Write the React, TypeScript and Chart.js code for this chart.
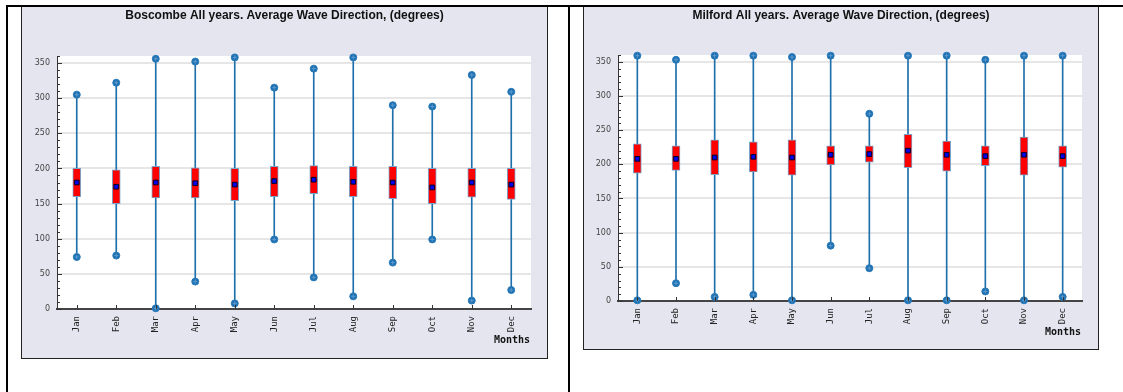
import React, { useEffect, useRef } from 'react';
import { Chart, registerables } from 'chart.js';

Chart.register(...registerables);

const months = ['Jan', 'Feb', 'Mar', 'Apr', 'May', 'Jun', 'Jul', 'Aug', 'Sep', 'Oct', 'Nov', 'Dec'];
const yTickValues = [0, 50, 100, 150, 200, 250, 300, 350];

const boscombeMin = [74, 76, 1, 39, 8, 99, 45, 18, 66, 99, 12, 27];
const boscombeMax = [305, 322, 356, 352, 358, 315, 342, 358, 290, 288, 333, 309];
const boscombeQ1 = [160, 150, 158, 158, 154, 160, 164, 160, 157, 150, 159, 156];
const boscombeQ3 = [200, 198, 203, 201, 200, 203, 204, 203, 203, 200, 200, 200];
const boscombeMean = [180, 174, 180, 179, 177, 182, 184, 181, 180, 173, 180, 177];

const milfordMin = [1, 26, 6, 9, 1, 81, 48, 1, 1, 14, 1, 6];
const milfordMax = [359, 353, 359, 359, 357, 359, 274, 359, 359, 353, 359, 359];
const milfordQ1 = [187, 191, 185, 189, 184, 199, 203, 195, 190, 198, 184, 196];
const milfordQ3 = [230, 227, 236, 233, 236, 227, 227, 244, 234, 227, 240, 227];
const milfordMean = [208, 208, 210, 211, 210, 214, 215, 220, 214, 212, 214, 212];

const decoPlugin = {
  id: 'deco',
  beforeDraw(chart: any) {
    const { ctx, chartArea: a } = chart;
    ctx.save();
    ctx.fillStyle = '#ffffff';
    ctx.fillRect(a.left, a.top, a.right - a.left, a.bottom - a.top);
    ctx.restore();
  },
  afterDraw(chart: any, _args: any, opts: any) {
    const { ctx, chartArea: a } = chart;
    const y = chart.scales.y;
    const x = chart.scales.x;
    ctx.save();
    ctx.strokeStyle = '#333';
    ctx.lineWidth = 1;
    ctx.beginPath();
    for (let v = 0; v <= 360; v += 10) {
      const py = Math.round(y.getPixelForValue(v)) + 0.5;
      ctx.moveTo(a.left, py);
      ctx.lineTo(a.left + (v % 50 === 0 ? 5 : 3), py);
    }
    for (let i = 0; i < months.length; i++) {
      const px = Math.round(x.getPixelForValue(i)) + 0.5;
      ctx.moveTo(px, a.bottom);
      ctx.lineTo(px, a.bottom - 4);
    }
    ctx.stroke();
    ctx.fillStyle = '#111';
    ctx.font = 'bold 12px "Liberation Sans", Arial, sans-serif';
    ctx.textAlign = 'center';
    ctx.textBaseline = 'middle';
    ctx.fillText(opts.title, chart.width / 2, opts.titleY);
    ctx.font = 'bold 10px "DejaVu Sans Mono", monospace';
    ctx.textAlign = 'right';
    ctx.fillText(opts.axisTitle, a.right - 1, opts.axisTitleY);
    ctx.restore();
  },
};

type PanelProps = {
  left: number;
  top: number;
  width: number;
  height: number;
  title: string;
  mins: number[];
  maxs: number[];
  q1: number[];
  q3: number[];
  means: number[];
  padTop: number;
  padRight: number;
  yWidth: number;
  xHeight: number;
  axisTitleY: number;
};

function endpointSet(data: number[]) {
  return {
    type: 'line',
    data,
    showLine: false,
    pointStyle: 'circle',
    pointRadius: 3.5,
    pointBackgroundColor: '#1f70b0',
    pointBorderColor: '#2a7cbb',
    pointBorderWidth: 1,
    clip: false,
    order: 3,
  } as any;
}

function crossSet(data: number[]) {
  return {
    type: 'line',
    data,
    showLine: false,
    pointStyle: 'cross',
    pointRadius: 2,
    pointBorderColor: '#5c9bd0',
    pointBorderWidth: 1,
    clip: false,
    order: 2,
  } as any;
}

function Panel(p: PanelProps) {
  const ref = useRef<HTMLCanvasElement>(null);
  const cw = p.width - 2;
  const ch = p.height - 2;
  useEffect(() => {
    if (!ref.current) return;
    const whisker = months.map((_, i) => [p.mins[i], p.maxs[i]]);
    const box = months.map((_, i) => [p.q1[i], p.q3[i]]);
    const chart = new Chart(ref.current, {
      type: 'bar',
      data: {
        labels: months,
        datasets: [
          {
            type: 'bar',
            data: whisker as any,
            backgroundColor: '#1f6fab',
            borderWidth: 0,
            barThickness: 1,
            grouped: false,
            order: 5,
          } as any,
          {
            type: 'bar',
            data: box as any,
            backgroundColor: '#ff0000',
            borderColor: '#7aa6cc',
            borderWidth: 1,
            borderSkipped: false,
            barThickness: 8,
            grouped: false,
            order: 4,
          } as any,
          endpointSet(p.mins),
          endpointSet(p.maxs),
          crossSet(p.mins),
          crossSet(p.maxs),
          {
            type: 'line',
            data: p.means,
            showLine: false,
            pointStyle: 'rect',
            pointRadius: 3.3,
            pointBackgroundColor: '#0000ee',
            pointBorderColor: '#000022',
            pointBorderWidth: 1,
            clip: false,
            order: 1,
          } as any,
        ],
      },
      options: {
        animation: false,
        responsive: false,
        events: [],
        layout: { padding: { left: 0, top: p.padTop, right: p.padRight, bottom: 0 } },
        plugins: {
          legend: { display: false },
          tooltip: { enabled: false },
          deco: { title: p.title, titleY: 9, axisTitle: 'Months', axisTitleY: p.axisTitleY },
        } as any,
        scales: {
          x: {
            type: 'category',
            offset: true,
            grid: { display: false, drawTicks: false },
            border: { display: true, color: '#444', width: 2 },
            ticks: {
              autoSkip: false,
              maxRotation: 90,
              minRotation: 90,
              padding: 7,
              color: '#222',
              font: { family: 'DejaVu Sans Mono', size: 9 },
            },
            afterFit: (s: any) => {
              s.height = p.xHeight;
            },
          },
          y: {
            min: 0,
            max: 360,
            grid: { color: '#e6e6e6', lineWidth: 2, drawTicks: false },
            border: { display: true, color: '#333', width: 1 },
            ticks: {
              stepSize: 50,
              padding: 7,
              color: '#444',
              font: { family: 'DejaVu Sans', size: 8 },
            },
            afterBuildTicks: (s: any) => {
              s.ticks = yTickValues.map((v) => ({ value: v }));
            },
            afterFit: (s: any) => {
              s.width = p.yWidth;
            },
          },
        },
      } as any,
      plugins: [decoPlugin as any],
    });
    return () => chart.destroy();
  }, []);
  return (
    <div
      style={{
        position: 'absolute',
        left: p.left,
        top: p.top,
        width: p.width,
        height: p.height,
        boxSizing: 'border-box',
        border: '1px solid #222',
        background: '#e5e5f0',
      }}
    >
      <canvas ref={ref} width={cw} height={ch} style={{ display: 'block', width: cw, height: ch }} />
    </div>
  );
}

export default function App() {
  return (
    <div style={{ position: 'absolute', left: 0, top: 0, width: 1123, height: 392, background: '#fff', overflow: 'hidden' }}>
      <Panel
        left={21}
        top={6}
        width={527}
        height={353}
        title="Boscombe All years. Average Wave Direction, (degrees)"
        mins={boscombeMin}
        maxs={boscombeMax}
        q1={boscombeQ1}
        q3={boscombeQ3}
        means={boscombeMean}
        padTop={49}
        padRight={16}
        yWidth={35}
        xHeight={49}
        axisTitleY={333}
      />
      <Panel
        left={583}
        top={6}
        width={516}
        height={344}
        title="Milford All years. Average Wave Direction, (degrees)"
        mins={milfordMin}
        maxs={milfordMax}
        q1={milfordQ1}
        q3={milfordQ3}
        means={milfordMean}
        padTop={48}
        padRight={16}
        yWidth={34}
        xHeight={48}
        axisTitleY={325}
      />
      <div style={{ position: 'absolute', left: 6, top: 5, width: 1117, height: 2, background: '#000' }} />
      <div style={{ position: 'absolute', left: 6, top: 5, width: 2, height: 387, background: '#000' }} />
      <div style={{ position: 'absolute', left: 568, top: 5, width: 2, height: 387, background: '#000' }} />
    </div>
  );
}
